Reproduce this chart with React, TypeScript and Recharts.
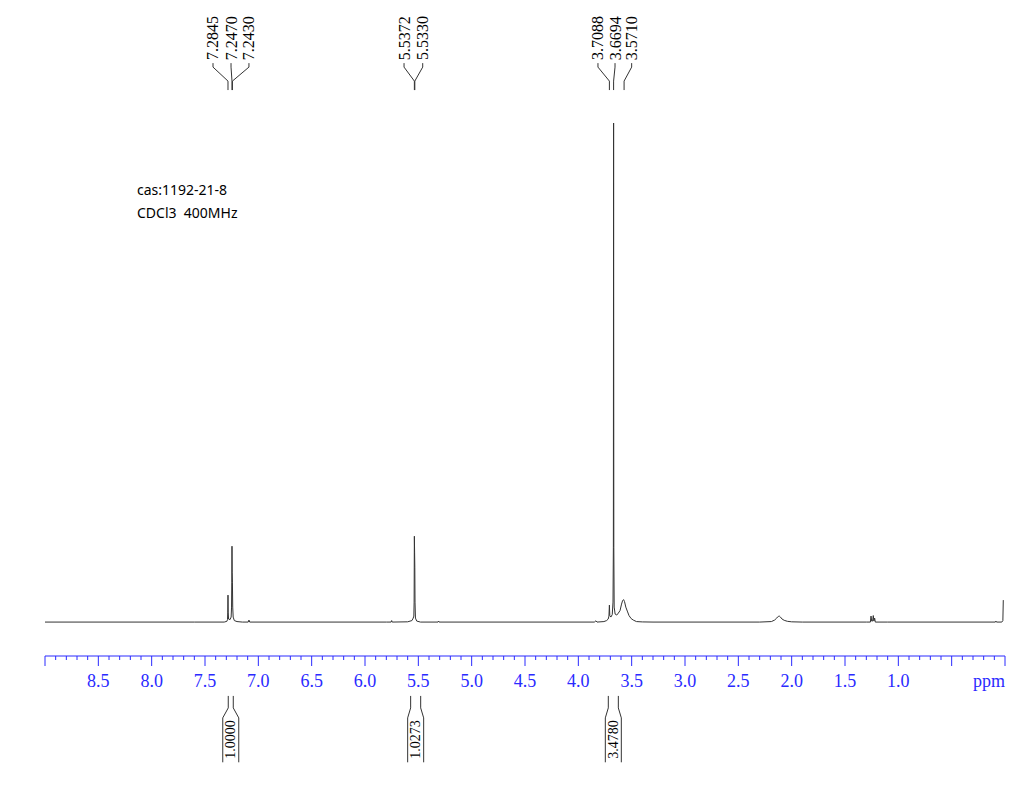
import { LineChart, Line, XAxis, YAxis, ReferenceLine, ReferenceDot } from 'recharts';

// 1H NMR trace: [ppm, relative intensity], tallest line = 100
const spectrum: [number, number][] = [
  [9.0, 0], [7.6, 0], [7.32, 0], [7.295, 0.15], [7.289, 0.5], [7.2865, 2], [7.2845, 5.4],
  [7.2825, 2], [7.279, 0.6], [7.265, 0.5], [7.255, 1.0], [7.251, 3], [7.249, 8],
  [7.247, 15.2], [7.245, 10], [7.243, 8], [7.24, 3], [7.236, 1.0], [7.225, 0.3],
  [7.2, 0.1], [7.15, 0], [7.095, 0], [7.088, 0.4], [7.081, 0], [6.0, 0],
  [5.8, 0], [5.755, 0], [5.75, 0.3], [5.745, 0], [5.6, 0.05], [5.56, 0.3], [5.548, 0.8],
  [5.542, 1.2], [5.5395, 4], [5.5372, 17.2], [5.535, 14], [5.533, 11], [5.531, 4],
  [5.527, 0.8], [5.515, 0.2], [5.48, 0], [5.315, 0], [5.31, 0.2], [5.305, 0],
  [3.85, 0], [3.835, 0.25], [3.825, 0], [3.76, 0.1], [3.735, 0.3], [3.72, 0.6],
  [3.713, 1.2], [3.7088, 3.4], [3.705, 1.3], [3.695, 1.0], [3.682, 1.5], [3.675, 4],
  [3.6715, 15], [3.6694, 100], [3.6673, 15], [3.664, 3], [3.655, 1.6], [3.64, 1.4],
  [3.625, 1.8], [3.609, 2.3], [3.595, 3.6], [3.585, 4.3], [3.576, 4.5], [3.567, 4.1],
  [3.555, 3.0], [3.541, 2.2], [3.525, 1.3], [3.505, 0.7], [3.485, 0.4], [3.455, 0.1],
  [3.4, 0.03], [3.3, 0],
  [2.3, 0], [2.19, 0.1], [2.16, 0.4], [2.14, 0.8], [2.125, 1.15], [2.116, 1.2],
  [2.105, 1.0], [2.09, 0.6], [2.07, 0.35], [2.04, 0.15], [2.0, 0.05], [1.9, 0],
  [1.3, 0], [1.262, 0], [1.256, 1.2], [1.25, 0.2], [1.241, 0.2], [1.235, 1.3],
  [1.229, 0.2], [1.222, 0.8], [1.216, 0], [1.1, 0],
  [0.09, 0], [0.085, 0.2], [0.08, 0], [0.03, 0], [0.02, 0.3], [0.016, 4.4],
];

// peak picking labels (ppm of the peak, ppm where its label sits)
const peakPpm = [7.2845, 7.247, 7.243, 5.5372, 5.533, 3.7088, 3.6694, 3.571];
const peakLabelPpm = [7.425, 7.256, 7.088, 5.634, 5.459, 3.816, 3.656, 3.5];

// integrals
const integralFrom = [7.282, 5.572, 3.719];
const integralTo = [7.235, 5.478, 3.625];
const integralValues = ['1.0000', '1.0273', '3.4780'];

const tickLabels = [8.5, 8.0, 7.5, 7.0, 6.5, 6.0, 5.5, 5.0, 4.5, 4.0, 3.5, 3.0, 2.5, 2.0, 1.5, 1.0];
const allTicks = Array.from({ length: 91 }, (_, i) => Math.round(90 - i) / 10);

const data = spectrum.map(([ppm, intensity]) => ({ ppm, intensity }));

const BLUE = '#2a2aff';
const INK = '#333';
const SERIF = "'Liberation Serif', 'Times New Roman', serif";

const W = 1013;
const H = 771;

const AxisTick = (props: any) => {
  const { x, y, payload } = props;
  const v = payload.value as number;
  const major = Math.abs(v * 2 - Math.round(v * 2)) < 1e-6;
  const hasLabel = tickLabels.some((t) => Math.abs(t - v) < 1e-6);
  return (
    <g>
      <line x1={x} x2={x} y1={y} y2={y + (major ? 10 : 4)} stroke={BLUE} strokeWidth={1} />
      {hasLabel && (
        <text x={x} y={y + 31} textAnchor="middle" fontFamily={SERIF} fontSize={18} fill={BLUE}>
          {v.toFixed(1)}
        </text>
      )}
      {Math.abs(v) < 1e-6 && (
        <text x={x} y={y + 31} textAnchor="end" fontFamily={SERIF} fontSize={18} fill={BLUE}>
          ppm
        </text>
      )}
    </g>
  );
};

const rotatedText = (text: string, size: number) => (p: any) => (
  <text
    x={p.cx}
    y={p.cy}
    transform={`rotate(-90 ${p.cx} ${p.cy})`}
    textAnchor="start"
    dominantBaseline="central"
    style={{ fontFamily: SERIF, fontSize: size }}
    fill="#000"
  >
    {text}
  </text>
);

export default function App() {
  const seg = (key: string, x1: number, y1: number, x2: number, y2: number) => (
    <ReferenceLine
      key={key}
      segment={[{ x: x1, y: y1 }, { x: x2, y: y2 }]}
      stroke={INK}
      strokeWidth={1}
      ifOverflow="visible"
    />
  );

  const peakMarks = peakPpm.flatMap((p, i) => {
    const l = peakLabelPpm[i];
    return [
      seg(`pa${i}`, l, 112.0, l, 111.2),
      seg(`pb${i}`, l, 111.2, p, 108.4),
      seg(`pc${i}`, p, 108.4, p, 106.6),
      <ReferenceDot
        key={`pl${i}`}
        x={l}
        y={112.6}
        r={0}
        ifOverflow="visible"
        shape={rotatedText(p.toFixed(4), 16)}
      />,
    ];
  });

  const half = 0.075;
  const integralMarks = integralValues.flatMap((v, i) => {
    const a = integralFrom[i];
    const b = integralTo[i];
    const c = (a + b) / 2;
    return [
      seg(`ia${i}`, a, -14.8, a, -17.2),
      seg(`ib${i}`, b, -14.8, b, -17.2),
      seg(`ic${i}`, a, -17.2, c + half, -19.2),
      seg(`id${i}`, b, -17.2, c - half, -19.2),
      seg(`ie${i}`, c + half, -19.2, c + half, -28.1),
      seg(`if${i}`, c - half, -19.2, c - half, -28.1),
      <ReferenceDot
        key={`il${i}`}
        x={c}
        y={-27.4}
        r={0}
        ifOverflow="visible"
        shape={rotatedText(v, 14)}
      />,
    ];
  });

  return (
    <div style={{ position: 'relative', width: W, height: H }}>
      <LineChart width={W} height={H} data={data} margin={{ top: 115, right: 16, bottom: 83, left: 37 }}>
        <XAxis
          dataKey="ppm"
          type="number"
          domain={[0, 9]}
          reversed
          ticks={allTicks}
          interval={0}
          allowDataOverflow
          height={40}
          stroke={BLUE}
          tickLine={false}
          tickSize={0}
          tickMargin={0}
          tick={<AxisTick />}
        />
        <YAxis hide width={0} domain={[-6.8, 100]} allowDataOverflow type="number" />
        <Line
          dataKey="intensity"
          type="linear"
          stroke={INK}
          strokeWidth={1}
          dot={false}
          isAnimationActive={false}
        />
        {peakMarks}
        {integralMarks}
      </LineChart>
      <svg width={W} height={H} style={{ position: 'absolute', left: 0, top: 0, pointerEvents: 'none' }}>
        <text x={129} y={187} fontFamily="'Noto Sans', sans-serif" fontSize={14} fill="#000">
          cas:1192-21-8
        </text>
        <text x={129} y={209.7} fontFamily="'Noto Sans', sans-serif" fontSize={14} fill="#000" style={{ whiteSpace: 'pre' }}>
          {'CDCl3  400MHz'}
        </text>
      </svg>
    </div>
  );
}
